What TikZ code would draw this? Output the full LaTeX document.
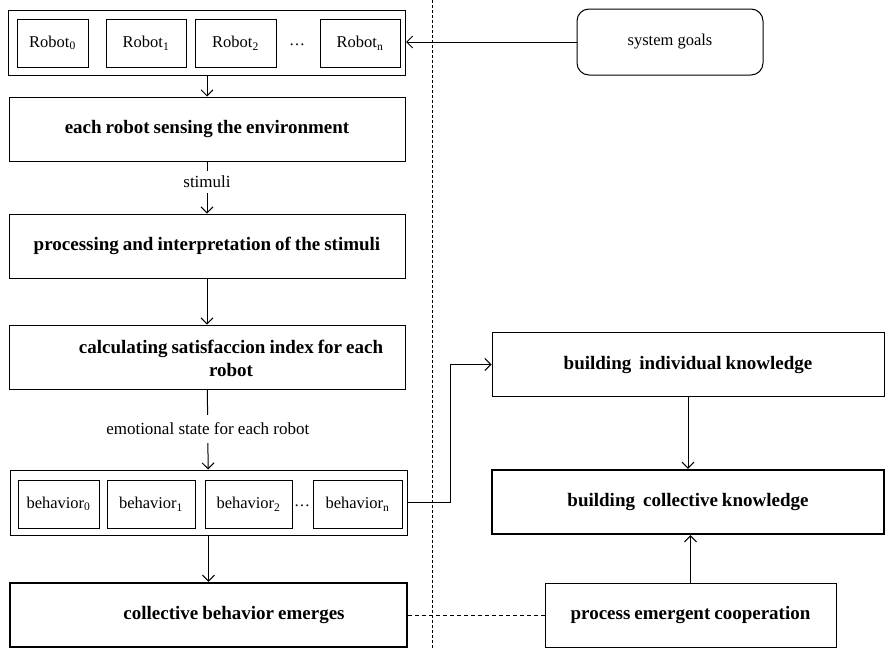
\documentclass[tikz,border=0pt]{standalone}
\usepackage{fontspec}
\setmainfont{Liberation Serif}
\usetikzlibrary{arrows.meta,positioning}
\newcommand\boxfont{\fontsize{19}{23}\selectfont\bfseries\spaceskip=4pt plus 1pt\relax}
\tikzset{
  box/.style={draw, line width=1pt, minimum height=64pt, inner sep=0pt, font=\boxfont},
  bigbox/.style={box, line width=2.4pt},
  boxtext/.style={inner sep=0pt, font=\boxfont},
  item/.style={draw, line width=1pt, minimum height=48pt, inner sep=0pt, font=\fontsize{16.5}{19}\selectfont},
  group/.style={draw, line width=1pt, minimum height=65pt, minimum width=397pt},
  note/.style={fill=white, inner sep=5pt, font=\fontsize{17}{20}\selectfont},
  flow/.style={-{Straight Barb[length=6pt,width=12pt]}, line width=1pt},
}
\begin{document}
\begin{tikzpicture}[x=1pt,y=-1pt]
\useasboundingbox (0,0) rectangle (886,648);
% the robots
\node[group] (robots) at (207,42.5) {};
\node[item, minimum width=71pt] (r0) at (52.5,43) {Robot\textsubscript{0}};
\node[item, minimum width=80pt] (r1) at (146,43) {Robot\textsubscript{1}};
\node[item, minimum width=81pt] (r2) at (235.5,43) {Robot\textsubscript{2}};
\node[font=\fontsize{16}{19}\selectfont] (rdots) at (297,45) {\dots};
\node[item, minimum width=80pt] (rn) at (360,43) {Robot\textsubscript{n}};
\node[draw, line width=1pt, rounded corners=12pt, minimum width=186pt, minimum height=66pt, font=\fontsize{16.5}{19}\selectfont] (goals) at (670,42) {system goals};
% left column
\node[box, minimum width=396pt] (sense) at (207,129) {each robot sensing the environment};
\node[box, minimum width=396pt] (proc) at (207,246) {processing and interpretation of the stimuli};
\node[box, minimum width=396pt] (calc) at (207,357) {};
\node[boxtext, align=center] (calctext) at (231,358) {calculating satisfaccion index for each\\robot};
% the behaviors
\node[group] (behav) at (208.5,502.5) {};
\node[item, minimum width=81pt] (b0) at (58.5,504) {behavior\textsubscript{0}};
\node[item, minimum width=88pt] (b1) at (151,504) {behavior\textsubscript{1}};
\node[item, minimum width=87pt] (b2) at (248.5,504) {behavior\textsubscript{2}};
\node[font=\fontsize{16}{19}\selectfont] (bdots) at (302,506) {\dots};
\node[item, minimum width=89pt] (bn) at (357.5,504) {behavior\textsubscript{n}};
\node[bigbox, minimum width=397pt] (colb) at (208.5,615) {};
\node[boxtext] (colbtext) at (234,615) {collective behavior emerges};
% right column
\node[box, minimum width=392pt] (indiv) at (688,364.5) {building\hspace{4pt} individual knowledge};
\node[bigbox, minimum width=392pt] (colk) at (688,502) {building\hspace{4pt} collective knowledge};
\node[box, minimum width=291pt] (coop) at (690.5,615) {process emergent cooperation};
% divider
\coordinate (divtop) at (432,0);
\coordinate (divbot) at (432,648);
\draw[line width=0.8pt, dash pattern=on 3pt off 2pt] (divtop) -- (divbot);
% draw the arrows
\draw[flow] (goals.west) -- (goals.west -| robots.east);
\draw[flow] (robots) -- (sense);
\draw[flow] (sense) -- node[note, pos=0.39] (stim) {stimuli} (proc);
\draw[flow] (proc) -- (calc);
\draw[flow] (calc) -- node[note, pos=0.49, inner ysep=8pt] (emo) {emotional state for each robot} (behav);
\draw[flow] (behav) -- (colb);
\draw[flow] (behav.east) -- ++(43,0) |- (indiv.west);
\draw[flow] (indiv) -- (colk);
\draw[flow] (coop.north) -- (coop.north |- colk.south);
\draw[line width=0.8pt, dash pattern=on 4pt off 3pt] (colb.east) -- (coop.west);
\end{tikzpicture}
\end{document}
